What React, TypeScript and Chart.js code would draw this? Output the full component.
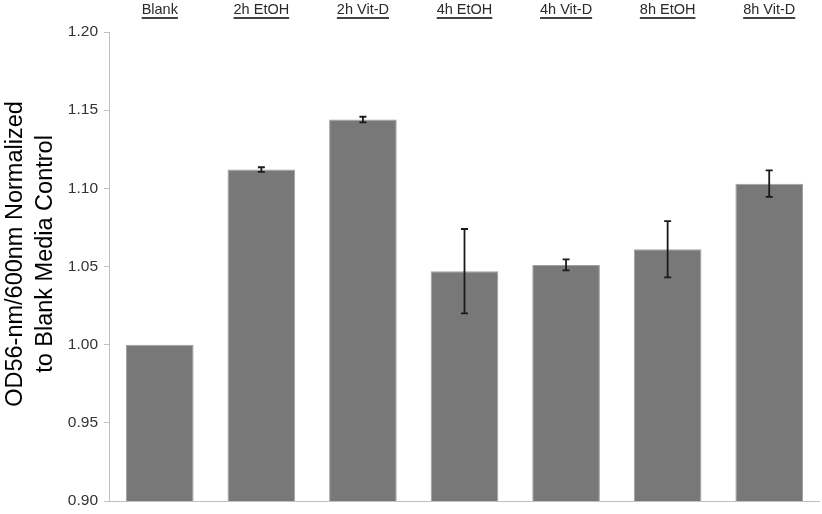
import React, { useEffect, useRef } from "react";
import { Chart, registerables } from "chart.js";

Chart.register(...registerables);

const categories = ["Blank", "2h EtOH", "2h Vit-D", "4h EtOH", "4h Vit-D", "8h EtOH", "8h Vit-D"];
const values = [1.0, 1.112, 1.144, 1.047, 1.051, 1.061, 1.103];
const errors = [0, 0.0015, 0.0018, 0.027, 0.0035, 0.018, 0.0085];
const yTitleLines = ["OD56-nm/600nm Normalized", "to Blank Media Control"];
const yMin = 0.9;
const yMax = 1.2;
const yStep = 0.05;

const FONT = "'Liberation Sans', Arial, sans-serif";

const errorBarPlugin = {
  id: "errorBars",
  afterDatasetsDraw(chart: any) {
    const ctx = chart.ctx;
    const meta = chart.getDatasetMeta(0);
    const y = chart.scales.y;
    ctx.save();
    ctx.strokeStyle = "#1a1a1a";
    ctx.lineWidth = 1.8;
    meta.data.forEach((bar: any, i: number) => {
      const e = errors[i];
      if (!e) return;
      const x = bar.x;
      const yt = y.getPixelForValue(values[i] + e);
      const yb = y.getPixelForValue(values[i] - e);
      ctx.beginPath();
      ctx.moveTo(x, yt);
      ctx.lineTo(x, yb);
      ctx.moveTo(x - 3.5, yt);
      ctx.lineTo(x + 3.5, yt);
      ctx.moveTo(x - 3.5, yb);
      ctx.lineTo(x + 3.5, yb);
      ctx.stroke();
    });
    ctx.restore();
  },
};

const decorPlugin = {
  id: "decor",
  afterDraw(chart: any) {
    const ctx = chart.ctx;
    const xs = chart.scales.x;
    ctx.save();
    // underline the category labels
    ctx.font = `14.5px ${FONT}`;
    ctx.strokeStyle = "#444";
    ctx.lineWidth = 2.2;
    categories.forEach((c, i) => {
      const x = xs.getPixelForValue(i);
      const w = ctx.measureText(c).width;
      ctx.beginPath();
      ctx.moveTo(x - w / 2, 18);
      ctx.lineTo(x + w / 2, 18);
      ctx.stroke();
    });
    // y axis title
    ctx.fillStyle = "#000";
    ctx.font = `23.5px ${FONT}`;
    ctx.textAlign = "center";
    ctx.textBaseline = "middle";
    const cy = 254;
    yTitleLines.forEach((line, i) => {
      ctx.save();
      ctx.translate(16 + i * 30, cy);
      ctx.rotate(-Math.PI / 2);
      ctx.fillText(line, 0, 0);
      ctx.restore();
    });
    ctx.restore();
  },
};

export default function App() {
  const ref = useRef<HTMLCanvasElement | null>(null);
  useEffect(() => {
    if (!ref.current) return;
    const chart = new Chart(ref.current, {
      type: "bar",
      data: {
        labels: categories,
        datasets: [
          {
            data: values,
            backgroundColor: "#787878",
            borderColor: "#a0a0a0",
            borderWidth: 1,
            barPercentage: 0.9,
            categoryPercentage: 0.74,
          },
        ],
      },
      options: {
        animation: false,
        responsive: false,
        maintainAspectRatio: false,
        layout: { padding: { left: 0, right: 2, top: 0, bottom: 13 } },
        plugins: {
          legend: { display: false },
          tooltip: { enabled: false },
          title: { display: false },
        },
        scales: {
          x: {
            position: "top",
            grid: { display: false, drawTicks: false },
            border: { display: false },
            ticks: {
              padding: 13,
              color: "#2a2a2a",
              font: { family: FONT, size: 14.5 },
              maxRotation: 0,
              autoSkip: false,
            },
            afterFit(scale: any) {
              scale.height = 32;
            },
          },
          y: {
            min: yMin,
            max: yMax,
            border: { display: true, color: "#c0c0c0", width: 1 },
            grid: {
              drawOnChartArea: true,
              tickLength: 5,
              tickColor: "#c0c0c0",
              color: (c: any) =>
                c.tick && Math.abs(c.tick.value - yMin) < 1e-6 ? "#c0c0c0" : "rgba(0,0,0,0)",
            },
            ticks: {
              stepSize: yStep,
              padding: 6,
              color: "#333",
              font: { family: FONT, size: 15.5, lineHeight: 0.9 },
              callback: (v: any) => Number(v).toFixed(2),
            },
            afterFit(scale: any) {
              scale.width = 109;
            },
          },
        },
      },
      plugins: [errorBarPlugin, decorPlugin],
    });
    return () => chart.destroy();
  }, []);
  return (
    <div style={{ position: "fixed", left: 0, top: 0, width: 822, height: 514, background: "#fff" }}>
      <canvas ref={ref} width={822} height={514} style={{ width: 822, height: 514 }} />
    </div>
  );
}
